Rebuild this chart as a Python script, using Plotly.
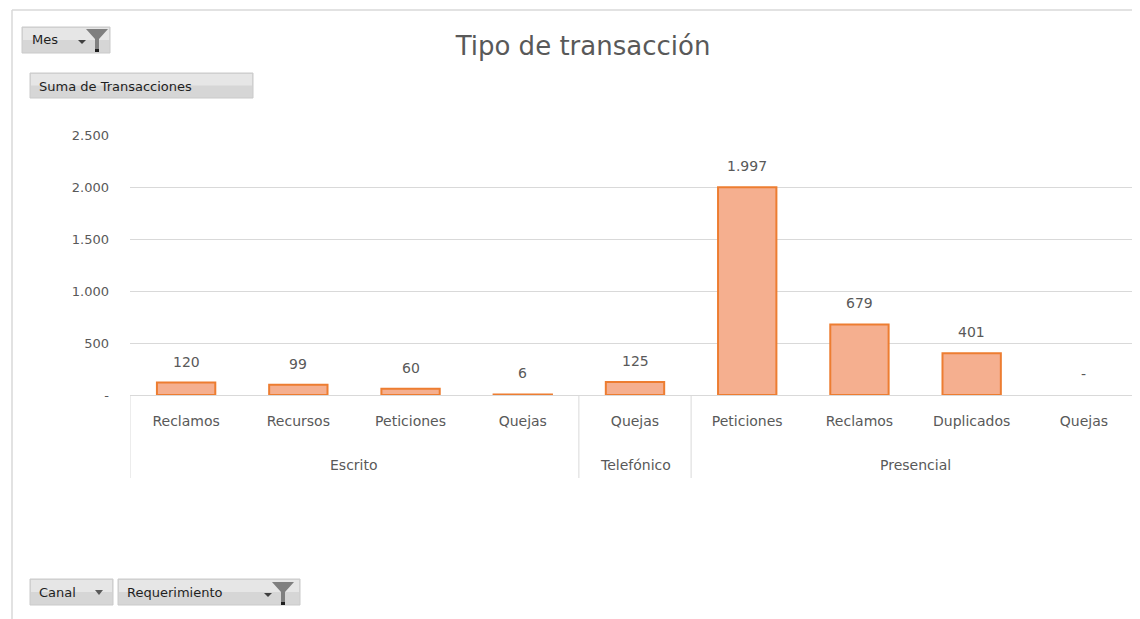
import plotly.graph_objects as go

# ---- data ----
canales = ["Escrito", "Telefónico", "Presencial"]
canal_sizes = [4, 1, 4]
requerimientos = ["Reclamos", "Recursos", "Peticiones", "Quejas", "Quejas",
                  "Peticiones", "Reclamos", "Duplicados", "Quejas"]
transacciones = [120, 99, 60, 6, 125, 1997, 679, 401, 0]
ytick_vals = [0, 500, 1000, 1500, 2000, 2500]
ytick_text = ["-", "500", "1.000", "1.500", "2.000", "2.500"]


def fmt(v):
    return "-" if v == 0 else f"{v:,}".replace(",", ".")


labels = [fmt(v) for v in transacciones]
xs = list(range(len(requerimientos)))

# page body has an 8px margin: work in screen pixels and shift
OFF = 8
W, H = 1140 - OFF, 619 - OFF
L, R, T, B = 130 - OFF, 0, 135 - OFF, 619 - 395
PW = W - L - R
PH = H - T - B


def px(x):
    return (x - OFF - L) / PW


def py(y):
    return (H - B - (y - OFF)) / PH


def path(points):
    return "M " + " L ".join(f"{px(x):.5f},{py(y):.5f}" for x, y in points) + " Z"


FONT = "DejaVu Sans"
GRAY = "#595959"
LINE = "#D9D9D9"

fig = go.Figure()
fig.add_trace(go.Bar(
    x=xs,
    y=transacciones,
    width=0.52,
    marker=dict(color="#F5AF8F",
                line=dict(color="#ED7D31", width=[2 if v > 0 else 0 for v in transacciones])),
    hoverinfo="skip",
))

shapes = []
annotations = []

# data labels
for xi, v, t in zip(xs, transacciones, labels):
    annotations.append(dict(x=xi, y=v, xref="x", yref="y", text=t, showarrow=False,
                            yanchor="middle", yshift=21,
                            font=dict(family=FONT, size=14, color=GRAY)))

# group labels and dividers
start = 0
bounds = [-0.5]
for name, n in zip(canales, canal_sizes):
    center = start + (n - 1) / 2
    annotations.append(dict(x=center, y=py(465), xref="x", yref="paper", text=name,
                            showarrow=False, yanchor="middle",
                            font=dict(family=FONT, size=14, color=GRAY)))
    start += n
    bounds.append(start - 0.5)
for b in bounds:
    shapes.append(dict(type="line", xref="x", yref="paper", x0=b, x1=b,
                       y0=0, y1=py(478), line=dict(color=LINE, width=1)))

# outer chart frame (partial, cropped)
shapes.append(dict(type="line", xref="paper", yref="paper",
                   x0=px(12), x1=px(12), y0=py(10), y1=py(640),
                   line=dict(color=LINE, width=1.5)))
shapes.append(dict(type="line", xref="paper", yref="paper",
                   x0=px(12), x1=px(1150), y0=py(10), y1=py(10),
                   line=dict(color=LINE, width=1.5)))


def button(x0, y0, x1, y1):
    shapes.append(dict(type="rect", xref="paper", yref="paper",
                       x0=px(x0), x1=px(x1), y0=py(y1), y1=py(y0),
                       fillcolor="#D6D6D6", line=dict(color="#CACACA", width=1),
                       layer="above"))
    shapes.append(dict(type="rect", xref="paper", yref="paper",
                       x0=px(x0 + 1), x1=px(x1 - 1), y0=py((y0 + y1) / 2), y1=py(y0 + 1),
                       fillcolor="#E6E6E6", line=dict(width=0), layer="above"))


def label(x, y, text, size=13):
    annotations.append(dict(xref="paper", yref="paper", x=px(x), y=py(y),
                            xanchor="left", yanchor="middle", text=text,
                            showarrow=False,
                            font=dict(family=FONT, size=size, color="#1F1F1F")))


def funnel(x, y):
    shapes.append(dict(type="path", xref="paper", yref="paper",
                       path=path([(x, y), (x + 22, y), (x + 13, y + 10),
                                  (x + 13, y + 20), (x + 9, y + 20), (x + 9, y + 10)]),
                       fillcolor="#7F7F7F", line=dict(width=0), layer="above"))
    shapes.append(dict(type="rect", xref="paper", yref="paper",
                       x0=px(x + 9), x1=px(x + 13), y0=py(y + 23), y1=py(y + 20),
                       fillcolor="#1F1F1F", line=dict(width=0), layer="above"))
    shapes.append(dict(type="path", xref="paper", yref="paper",
                       path=path([(x - 8, y + 11), (x, y + 11), (x - 4, y + 15)]),
                       fillcolor="#404040", line=dict(width=0), layer="above"))


def arrow(x, y):
    shapes.append(dict(type="path", xref="paper", yref="paper",
                       path=path([(x, y), (x + 8, y), (x + 4, y + 5)]),
                       fillcolor="#595959", line=dict(width=0), layer="above"))


# Mes button
button(22, 27, 110, 53)
label(30, 40, "Mes")
funnel(86, 29)
# Suma de Transacciones
button(30, 73, 253, 98)
label(37, 86, "Suma de Transacciones")
# Canal
button(30, 579, 113, 605)
label(37, 592, "Canal")
arrow(95, 590)
# Requerimiento
button(118, 579, 300, 605)
label(125, 592, "Requerimiento")
funnel(272, 582)

fig.update_layout(
    width=W, height=H,
    margin=dict(l=L, r=R, t=T, b=B),
    paper_bgcolor="white",
    plot_bgcolor="white",
    showlegend=False,
    title=dict(text="Tipo de transacción", xref="container", x=(583 - OFF) / W,
               xanchor="center",
               yref="container", y=1 - (46 - OFF) / H, yanchor="middle",
               font=dict(family=FONT, size=26, color=GRAY)),
    font=dict(family=FONT, size=13, color=GRAY),
    shapes=shapes,
    annotations=annotations,
    xaxis=dict(
        range=[-0.5, len(xs) - 0.5],
        tickvals=xs, ticktext=requerimientos,
        showline=True, linecolor=LINE, linewidth=1,
        tickfont=dict(family=FONT, size=14, color=GRAY),
        ticks="", showgrid=False, zeroline=False,
        ticklabelstandoff=13,
    ),
    yaxis=dict(
        range=[0, 2500],
        tickvals=ytick_vals, ticktext=ytick_text,
        showgrid=True, gridcolor=LINE, gridwidth=1,
        zeroline=False, showline=False,
        tickfont=dict(family=FONT, size=13, color=GRAY),
        ticklabelstandoff=20,
    ),
)

fig.write_html("out.html")
